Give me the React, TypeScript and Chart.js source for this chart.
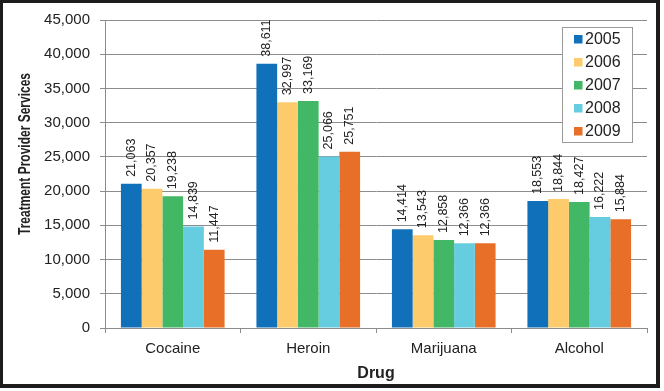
import React, { useEffect, useRef } from "react";
import { Chart, registerables } from "chart.js";

Chart.register(...registerables);

const categories = ["Cocaine", "Heroin", "Marijuana", "Alcohol"];
const years = ["2005", "2006", "2007", "2008", "2009"];
const values2005 = [21063, 38611, 14414, 18553];
const values2006 = [20357, 32997, 13543, 18844];
const values2007 = [19238, 33169, 12858, 18427];
const values2008 = [14839, 25066, 12366, 16222];
const values2009 = [11447, 25751, 12366, 15884];
const seriesValues = [values2005, values2006, values2007, values2008, values2009];
const colors = ["#1170BA", "#FDCB6B", "#42B866", "#66CCE0", "#E86F28"];
const yTitle = "Treatment Provider Services";
const xTitle = "Drug";

const FONT = "'Liberation Sans', Arial, sans-serif";
const TEXT = "#222222";
const GRID = "#8c8c8c";

const fmt = (v: number) => v.toLocaleString("en-US");

const labelsPlugin = {
  id: "barLabels",
  afterDatasetsDraw(chart: any) {
    const ctx = chart.ctx;
    ctx.save();
    ctx.font = `12.5px ${FONT}`;
    ctx.fillStyle = TEXT;
    ctx.textAlign = "left";
    ctx.textBaseline = "middle";
    chart.data.datasets.forEach((ds: any, di: number) => {
      const meta = chart.getDatasetMeta(di);
      meta.data.forEach((bar: any, i: number) => {
        ctx.save();
        ctx.translate(bar.x, bar.y - 7);
        ctx.rotate(-Math.PI / 2);
        ctx.fillText(fmt(ds.data[i]), 0, 0);
        ctx.restore();
      });
    });
    ctx.restore();
  },
};

const legendPlugin = {
  id: "insideLegend",
  afterDraw(chart: any) {
    const ctx = chart.ctx;
    const area = chart.chartArea;
    const left = area.right - 85;
    const top = area.top + 7;
    ctx.save();
    ctx.fillStyle = "#ffffff";
    ctx.fillRect(left, top, 70, 115);
    ctx.strokeStyle = "#9a9a9a";
    ctx.lineWidth = 1;
    ctx.strokeRect(left + 0.5, top + 0.5, 70, 115);
    ctx.font = `16px ${FONT}`;
    ctx.textBaseline = "middle";
    ctx.textAlign = "left";
    chart.data.datasets.forEach((ds: any, i: number) => {
      const cy = top + 12 + i * 23;
      ctx.fillStyle = ds.backgroundColor;
      ctx.fillRect(left + 12, cy - 4, 8.5, 8.5);
      ctx.fillStyle = TEXT;
      ctx.fillText(ds.label, left + 23, cy + 1);
    });
    ctx.restore();
  },
};

const yTitlePlugin = {
  id: "yTitle",
  afterDraw(chart: any) {
    const ctx = chart.ctx;
    ctx.save();
    ctx.translate(26, 154);
    ctx.rotate(-Math.PI / 2);
    ctx.font = `bold 16px ${FONT}`;
    ctx.fillStyle = TEXT;
    ctx.textAlign = "center";
    ctx.textBaseline = "middle";
    ctx.fillText(yTitle, 0, 0, 162);
    ctx.restore();
  },
};

export default function App() {
  const ref = useRef<HTMLCanvasElement | null>(null);
  useEffect(() => {
    document.body.style.margin = "0";
    if (!ref.current) return;
    Chart.defaults.font.family = FONT;
    const chart = new Chart(ref.current, {
      type: "bar",
      data: {
        labels: categories,
        datasets: years.map((y, i) => ({
          label: y,
          data: seriesValues[i],
          backgroundColor: colors[i],
          borderWidth: 0,
          categoryPercentage: 0.765,
          barPercentage: 1,
        })),
      },
      options: {
        responsive: false,
        animation: false,
        layout: { padding: { top: 20, right: 17, left: 0, bottom: 0 } },
        plugins: { legend: { display: false }, tooltip: { enabled: false } },
        scales: {
          x: {
            afterFit: (s: any) => {
              s.height = 63;
            },
            grid: {
              display: true,
              drawOnChartArea: false,
              drawTicks: true,
              tickLength: 5,
              offset: true,
              color: GRID,
            },
            border: { display: true, color: GRID },
            ticks: { color: TEXT, font: { size: 15 }, padding: 7 },
            title: {
              display: true,
              text: xTitle,
              color: TEXT,
              font: { size: 16, weight: "bold" },
              padding: { top: 0, bottom: 8 },
            },
          },
          y: {
            min: 0,
            max: 45000,
            afterFit: (s: any) => {
              s.width = 105;
            },
            grid: { color: GRID, tickLength: 5, drawTicks: true },
            border: { display: true, color: GRID },
            ticks: {
              stepSize: 5000,
              color: TEXT,
              font: { size: 15 },
              padding: 10,
              callback: (v: any) => fmt(Number(v)),
            },
          },
        },
      },
      plugins: [labelsPlugin, yTitlePlugin, legendPlugin],
    } as any);
    return () => chart.destroy();
  }, []);

  return (
    <div style={{ position: "fixed", left: 0, top: 0, width: 664, height: 391, background: "#fff" }}>
      <canvas ref={ref} width={664} height={391} style={{ width: 664, height: 391, display: "block" }} />
      <div
        style={{
          position: "absolute",
          left: 0,
          top: 0,
          width: 660,
          height: 388,
          boxSizing: "border-box",
          borderTop: "3px solid #1c1c1c",
          borderLeft: "3px solid #1c1c1c",
          borderRight: "4px solid #1c1c1c",
          borderBottom: "4px solid #1c1c1c",
          pointerEvents: "none",
        }}
      />
    </div>
  );
}
